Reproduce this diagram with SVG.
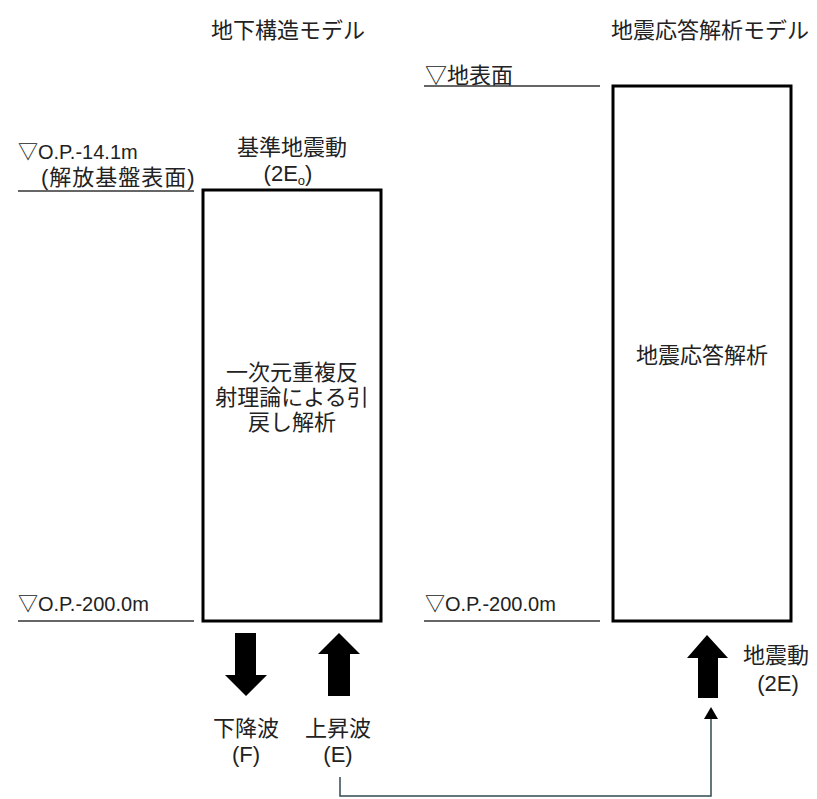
<svg xmlns="http://www.w3.org/2000/svg" width="817" height="799" viewBox="0 0 817 799">
<defs>
<style>
text{font-family:"Liberation Sans","Noto Sans CJK JP",sans-serif;font-size:22px;fill:#222}
.c{text-anchor:middle}
.lv{font-size:20px}
.box{fill:#fff;stroke:#000;stroke-width:3}
.lvl{stroke:#333;stroke-width:1.5;fill:none}
.big{fill:#000}
.conn{stroke:#2f4a50;stroke-width:1.5;fill:none}
</style>
</defs>
<rect width="817" height="799" fill="#fff"/>
<g id="title-left"><text class="c" x="288" y="38">地下構造モデル</text></g>
<g id="title-right"><text class="c" x="710" y="38">地震応答解析モデル</text></g>
<g id="level-surface"><text x="425" y="83">▽地表面</text><line class="lvl" x1="424" y1="86" x2="600" y2="86"/></g>
<g id="level-141"><text class="lv" x="18" y="159">▽O.P.-14.1m</text><text x="41" y="185" letter-spacing="1">(解放基盤表面)</text><line class="lvl" x1="18" y1="191" x2="194" y2="191"/></g>
<g id="level-200-left"><text class="lv" x="18" y="611">▽O.P.-200.0m</text><line class="lvl" x1="18" y1="621" x2="194" y2="621"/></g>
<g id="level-200-right"><text class="lv" x="425" y="611">▽O.P.-200.0m</text><line class="lvl" x1="424" y1="621" x2="600" y2="621"/></g>
<g id="input-label"><text class="c" x="292" y="155">基準地震動</text><text class="c" x="288" y="181">(2E<tspan font-size="13" dy="4">o</tspan><tspan dy="-4">)</tspan></text></g>
<g id="box-left"><rect class="box" x="203" y="190" width="178" height="431"/><text class="c" x="292" y="380">一次元重複反</text><text class="c" x="292" y="405">射理論による引</text><text class="c" x="292" y="430">戻し解析</text></g>
<g id="box-right"><rect class="box" x="613" y="86" width="178" height="535"/><text class="c" x="702" y="363">地震応答解析</text></g>
<g id="arrow-down"><path class="big" d="M235,633H256V675H267L246,696L225,675H235Z"/><text class="c" x="246" y="736">下降波</text><text class="c" x="246" y="762">(F)</text></g>
<g id="arrow-up"><path class="big" d="M339,633L360,654H350V696H328V654H318Z"/><text class="c" x="338" y="736">上昇波</text><text class="c" x="338" y="762">(E)</text></g>
<g id="arrow-input"><path class="big" d="M707,635L728,658H718V698H698V658H687Z"/><text class="c" x="776" y="663">地震動</text><text class="c" x="778" y="691">(2E)</text></g>
<g id="connectors"><path class="conn" d="M340,777V796H711V716"/><path d="M704,719L711,707L718,719Z" fill="#000"/></g>
</svg>
